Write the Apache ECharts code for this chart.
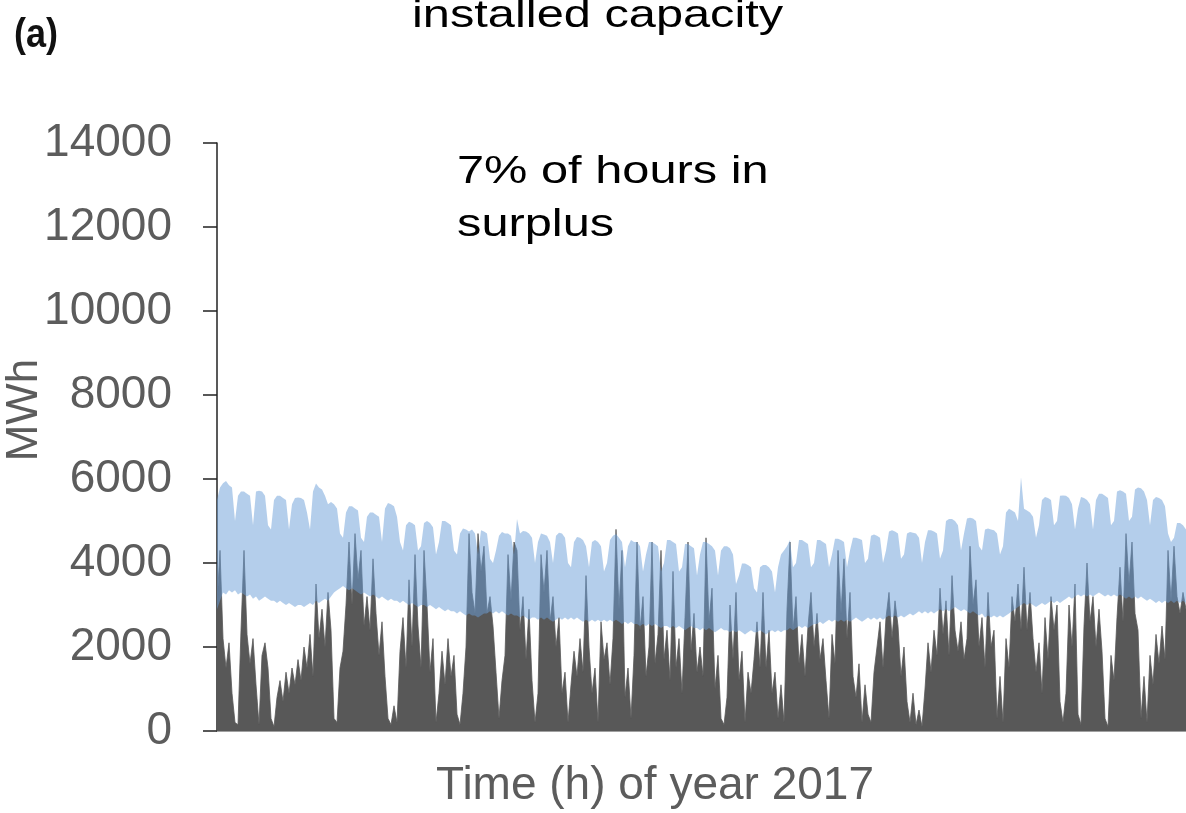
<!DOCTYPE html>
<html>
<head>
<meta charset="utf-8">
<script src="https://cdn.jsdelivr.net/npm/echarts@6/dist/echarts.min.js"></script>
<style>
html,body{margin:0;padding:0;background:#fff;}
#chart{width:1186px;height:813px;}
</style>
</head>
<body>
<div id="chart"></div>
<script>
// Y axis ticks (MWh)
const yTicks = [0, 2000, 4000, 6000, 8000, 10000, 12000, 14000];

// Wind generation (grey), read across the year at uniform steps
const windGen = [
3000,4300,2200,1500,2100,900,200,150,2400,4300,
2300,1600,2200,1100,150,1800,2100,1500,300,100,
800,1200,700,1400,900,1500,1100,1700,1200,2000,
1500,2300,1300,3500,2200,2900,2000,3300,2400,300,
200,1500,1900,3000,4500,3000,4700,3600,4300,2500,
3200,2400,4100,2800,1800,2600,1300,300,150,600,
200,1900,2700,1500,3600,2000,4200,2500,1500,4300,
3000,1400,2200,200,900,1900,1100,2200,1300,1800,
400,150,900,2000,4700,3300,2800,4700,3800,4400,
2800,3200,2500,1400,300,1200,1800,4200,3100,4500,
4300,2400,3200,1700,2900,1200,200,900,4200,3300,
4300,2600,3200,2000,2700,900,1400,200,1100,1900,
1300,2200,1400,3700,2000,900,1500,200,2600,1700,
2100,1100,2200,4800,2900,4300,800,1500,300,1800,
4500,2400,3200,1300,2000,4500,1600,2300,4300,1700,
2400,1200,3800,1500,2200,900,2700,4500,1900,2800,
1400,2000,1300,4600,2600,3400,1000,1800,300,150,
800,3000,1700,3300,1200,1900,200,1400,900,1700,
2600,1500,3300,1500,2400,900,1400,300,1100,200,
2900,4500,2400,3200,1600,2300,1300,2500,3300,2000,
2800,1700,2200,1200,300,2300,1600,4300,2800,4100,
2200,3300,1300,800,1600,200,1100,400,200,1400,
2000,2600,1500,2700,3300,2200,3100,2500,1300,2000,
700,200,900,150,500,100,1000,2100,1400,2400,
1800,3400,2300,3100,1800,3700,2400,1900,2600,1700,
2200,4400,3000,3600,2000,2700,1500,3300,2000,2400,
300,1300,200,2200,1500,3200,2600,3500,2400,3900,
2400,3300,2200,1400,2100,900,2700,1700,3200,2400,
3000,700,200,900,3000,2000,3500,400,150,2500,
4000,2600,3200,2000,2900,1900,300,100,1800,1200,
2700,3900,2600,4700,3500,4500,2800,2400,300,1300,
200,1800,1100,2300,1600,2500,1700,4300,3100,4400,
3200,2800,3300,2900
];

// Demand (blue band): upper envelope (daily peaks)
const demandHigh = [
5500,5800,5900,5950,5850,5800,5000,5600,5700,5700,
5650,5600,4900,5700,5720,5700,5600,4900,4800,5500,
5600,5600,5550,5500,4800,5400,5550,5560,5550,5500,
5200,4800,5700,5890,5800,5750,5600,5400,5450,5400,
5300,4700,4600,5200,5350,5350,5300,5250,4600,4500,
5100,5200,5200,5150,5100,4500,5300,5430,5400,5350,
5100,4500,4300,4900,4980,4950,4900,4300,4400,4950,
5000,4950,4850,4200,4500,5000,5000,4950,4900,4300,
4200,4700,4820,4800,4750,4800,4700,4200,4780,4750,
4700,4100,4000,4300,4650,4740,4700,4700,4650,4200,
5050,4700,4760,4750,4700,4600,4000,4500,4700,4680,
4650,4500,4000,4650,4720,4700,4600,4000,3900,4500,
4620,4600,4550,4400,3900,4500,4550,4500,4400,3800,
4000,4550,4650,4690,4600,4500,3900,4400,4550,4500,
4500,4400,3800,4200,4500,4500,4450,4400,3800,4000,
4550,4550,4500,4450,3800,3900,4450,4450,4400,4350,
3700,4200,4500,4500,4450,4400,4300,3700,4300,4400,
4400,4350,4200,3500,3700,3990,3990,3950,3900,3400,
3300,3900,3950,3950,3900,3800,3300,3900,4200,4300,
4400,4550,3900,4000,4550,4550,4500,4450,3900,4000,
4550,4550,4500,4450,3900,4200,4580,4580,4550,4500,
3900,4300,4600,4600,4580,4550,4000,4100,4650,4680,
4650,4600,4000,4300,4750,4780,4750,4700,4100,4200,
4700,4740,4720,4700,4600,4000,4500,4780,4780,4750,
4700,4100,4300,5000,5050,5050,5000,4900,4300,4700,
5060,5080,5060,5000,4400,4300,4800,4820,4800,4780,
4700,4200,4400,5200,5290,5250,5200,5000,6040,5290,
5250,5200,5100,4600,4900,5500,5570,5550,5500,4900,
5000,5600,5610,5600,5550,5400,4800,5300,5570,5550,
5500,5400,4800,5500,5650,5650,5600,5550,4900,5000,
5700,5730,5700,5650,5000,5100,5750,5800,5780,5700,
5500,4900,5500,5570,5550,5500,5350,4700,4500,4600,
4950,4950,4900,4800
];

// Demand (blue band): lower envelope (daily troughs)
const demandLow = [
2900,3100,3300,3250,3350,3300,3350,3250,3300,3250,
3200,3250,3150,3200,3100,3150,3200,3150,3100,3100,
3050,3100,3050,3000,3050,3000,2950,3000,3000,2950,
3000,3050,3000,3100,3050,3100,3150,3100,3200,3300,
3350,3400,3450,3400,3350,3400,3350,3300,3250,3300,
3250,3200,3250,3200,3150,3200,3150,3100,3150,3100,
3100,3050,3100,3050,3000,3050,3000,2950,3000,3000,
2950,3000,2950,2900,2950,2900,2850,2900,2850,2850,
2800,2850,2800,2750,2800,2750,2750,2700,2750,2800,
2800,2850,2800,2850,2800,2850,2800,2750,2800,2750,
2750,2700,2750,2700,2650,2700,2700,2650,2700,2650,
2700,2650,2600,2650,2700,2650,2700,2650,2700,2650,
2700,2650,2600,2650,2600,2650,2600,2650,2600,2650,
2600,2650,2600,2650,2600,2550,2600,2550,2600,2550,
2550,2500,2550,2500,2550,2500,2550,2500,2450,2500,
2500,2450,2500,2450,2500,2450,2400,2450,2500,2450,
2450,2400,2450,2400,2450,2400,2350,2400,2450,2400,
2400,2350,2400,2350,2400,2350,2300,2350,2400,2350,
2350,2400,2350,2300,2350,2400,2350,2400,2350,2400,
2400,2450,2400,2450,2500,2450,2500,2450,2500,2550,
2550,2600,2550,2600,2650,2600,2650,2600,2650,2600,
2650,2600,2650,2700,2650,2600,2650,2700,2650,2700,
2650,2700,2650,2700,2750,2700,2750,2700,2750,2700,
2750,2800,2750,2800,2850,2800,2850,2800,2850,2800,
2850,2900,2850,2900,2850,2900,2950,2900,2850,2900,
2850,2800,2850,2800,2750,2800,2700,2750,2700,2750,
2700,2750,2700,2750,2800,2850,2900,2950,3000,3050,
3000,3050,3000,2950,3000,3050,3000,3050,3100,3050,
3100,3050,3100,3150,3200,3150,3200,3250,3200,3250,
3200,3250,3200,3250,3300,3250,3200,3250,3200,3250,
3200,3250,3200,3150,3200,3150,3200,3150,3200,3150,
3100,3150,3100,3050,3100,3050,3100,3050,3100,3050,
3100,3050,3100,3050
];

const hours = windGen.map((_, i) => String(i));
const bandWidth = demandHigh.map((v, i) => v - demandLow[i]);

const FONT = '"Liberation Sans", Arial, Helvetica, sans-serif';
const chart = echarts.init(document.getElementById('chart'), null, {renderer: 'canvas'});

chart.setOption({
  animation: false,
  backgroundColor: '#ffffff',
  grid: {left: 217, top: 143, right: 0, bottom: 82, containLabel: false},
  xAxis: {
    type: 'category',
    data: hours,
    boundaryGap: false,
    axisLine: {show: true, lineStyle: {color: '#a0a0a0', width: 2}},
    axisTick: {show: false},
    axisLabel: {show: false},
    splitLine: {show: false}
  },
  yAxis: {
    type: 'value',
    min: yTicks[0],
    max: yTicks[yTicks.length - 1],
    interval: 2000,
    axisLine: {show: true, lineStyle: {color: '#222', width: 1.5}},
    axisTick: {show: true, inside: false, length: 14, lineStyle: {color: '#222', width: 1.5}},
    axisLabel: {margin: 45, fontSize: 46, color: '#5c5c5c', fontFamily: FONT,
                formatter: v => String(v)},
    splitLine: {show: false}
  },
  graphic: [
    {type: 'text', x: 14, y: 36, scaleX: 0.9, z: 100,
     style: {text: '(a)', fontSize: 40, fontWeight: 'bold', fontFamily: FONT, fill: '#111',
             align: 'left', verticalAlign: 'middle', textAlign: 'left', textVerticalAlign: 'middle'}},
    {type: 'text', x: 412, y: 16, scaleX: 1.25, z: 100,
     style: {text: 'installed capacity', fontSize: 39, fontFamily: FONT, fill: '#000',
             align: 'left', verticalAlign: 'middle', textAlign: 'left', textVerticalAlign: 'middle'}},
    {type: 'text', x: 457, y: 172, scaleX: 1.25, z: 100,
     style: {text: '7% of hours in', fontSize: 39, fontFamily: FONT, fill: '#000',
             align: 'left', verticalAlign: 'middle', textAlign: 'left', textVerticalAlign: 'middle'}},
    {type: 'text', x: 457, y: 225, scaleX: 1.25, z: 100,
     style: {text: 'surplus', fontSize: 39, fontFamily: FONT, fill: '#000',
             align: 'left', verticalAlign: 'middle', textAlign: 'left', textVerticalAlign: 'middle'}},
    {type: 'text', x: 655, y: 786, z: 100,
     style: {text: 'Time (h) of year 2017', fontSize: 46, fontFamily: FONT, fill: '#5c5c5c',
             align: 'center', verticalAlign: 'middle', textAlign: 'center', textVerticalAlign: 'middle'}},
    {type: 'text', x: 25, y: 410, rotation: Math.PI / 2, z: 100,
     style: {text: 'MWh', fontSize: 44, fontFamily: FONT, fill: '#5c5c5c',
             align: 'center', verticalAlign: 'middle', textAlign: 'center', textVerticalAlign: 'middle'}}
  ],
  series: [
    {
      name: 'Wind generation',
      type: 'line',
      data: windGen,
      showSymbol: false,
      symbol: 'none',
      silent: true,
      sampling: null,
      z: 2,
      lineStyle: {width: 0.8, color: '#585858'},
      areaStyle: {color: '#585858', opacity: 1}
    },
    {
      name: 'demandLow',
      type: 'line',
      stack: 'demand',
      data: demandLow,
      symbol: 'none',
      silent: true,
      z: 3,
      lineStyle: {width: 0, opacity: 0},
      areaStyle: {opacity: 0}
    },
    {
      name: 'Demand',
      type: 'line',
      stack: 'demand',
      data: bandWidth,
      symbol: 'none',
      silent: true,
      z: 3,
      lineStyle: {width: 0, opacity: 0},
      areaStyle: {color: 'rgba(105,158,215,0.5)', opacity: 1}
    }
  ]
});
</script>
</body>
</html>
